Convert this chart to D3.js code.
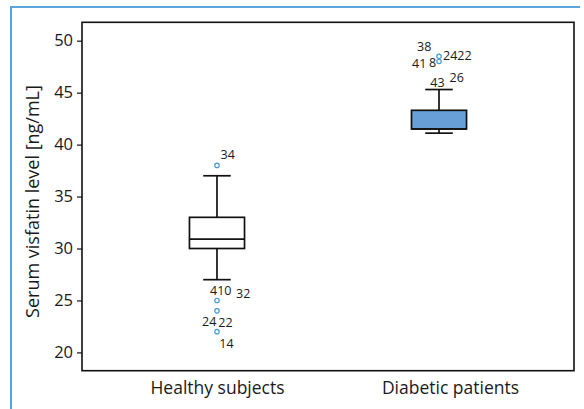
<!DOCTYPE html>
<html><head><meta charset="utf-8">
<script src="https://cdn.jsdelivr.net/npm/d3@7"></script>
<style>
body{margin:0;background:#fff;}
svg text{font-family:"Open Sans",sans-serif;fill:#1a1a1a;}
</style></head>
<body><svg id="c" width="584" height="409"></svg>
<script>
// ---- data ----
const categories = ["Healthy subjects", "Diabetic patients"];
const whiskerLow  = [27.0, 41.1];
const q1          = [30.0, 41.5];
const median      = [30.9, 41.5];
const q3          = [33.0, 43.3];
const whiskerHigh = [37.0, 45.3];
const outlierGroup = [0, 0, 0, 0, 1, 1];
const outlierValue = [38.0, 25.0, 24.0, 22.0, 48.5, 48.0];
const labelPoint = [0, 1, 1, 2, 2, 3, 4, 5, 5, 5, 5, 5];
const labelText  = ["34", "410", "32", "24", "22", "14", "38", "41", "8", "2422", "43", "26"];
const yTicks = [20, 25, 30, 35, 40, 45, 50];
const yTitle = "Serum visfatin level [ng/mL]";

// ---- label offsets (style) ----
const labelDx = [3.5, -7, 19, -15, 1.3, 2.3, -22, -27, -10, 4, -8.7, 10.6];
const labelDy = [-6.5, -5, -2.4, 15, 16, 16, -5.3, 6.3, 5.3, -1.3, 25.7, 20.7];
const catLabelDx = [0, 11];

const svg = d3.select("#c");
const L = 82, R = 574, T = 22.3, B = 370.7;

const x = d3.scalePoint().domain(categories).range([L, R]).padding(0.608);
const y = d3.scaleLinear().domain([18.24, 51.77]).range([B, T]);

// outer blue frame
svg.append("path").attr("d", `M11,409V7H580`).attr("fill","none")
  .attr("stroke","#5aa5da").attr("stroke-width",2);

// plot frame
svg.append("rect").attr("x",L).attr("y",T).attr("width",R-L).attr("height",B-T)
  .attr("fill","none").attr("stroke","#111").attr("stroke-width",1.6);

// y axis
const ya = svg.append("g").attr("transform",`translate(${L},0)`)
  .call(d3.axisLeft(y).tickValues(yTicks).tickSize(5).tickPadding(4));
ya.select(".domain").remove();
ya.selectAll("line").attr("stroke","#111").attr("stroke-width",1.2);
ya.selectAll("text").style("font-size","16.5px").attr("fill","#1a1a1a");

// x axis labels
const xa = svg.append("g").attr("transform",`translate(0,${B})`)
  .call(d3.axisBottom(x).tickSize(0).tickPadding(11));
xa.select(".domain").remove();
xa.selectAll("text").style("font-size","17.5px").attr("fill","#1a1a1a")
  .attr("dx",(d,i)=>catLabelDx[i]);

// y title
svg.append("text").attr("transform",`translate(38.5,${(T+B)/2 + 5}) rotate(-90)`)
  .attr("text-anchor","middle").style("font-size","18px").text(yTitle);

// boxes
const bw = x.step()*0.248, cw = bw*0.5;
const fills = ["#ffffff", "#679fd6"];
categories.forEach((c,i)=>{
  const cx = x(c);
  const g = svg.append("g").attr("stroke","#111").attr("stroke-width",1.7);
  g.append("line").attr("x1",cx).attr("x2",cx).attr("y1",y(whiskerHigh[i])).attr("y2",y(q3[i]));
  g.append("line").attr("x1",cx).attr("x2",cx).attr("y1",y(q1[i])).attr("y2",y(whiskerLow[i]));
  g.append("line").attr("x1",cx-cw/2).attr("x2",cx+cw/2).attr("y1",y(whiskerHigh[i])).attr("y2",y(whiskerHigh[i]));
  g.append("line").attr("x1",cx-cw/2).attr("x2",cx+cw/2).attr("y1",y(whiskerLow[i])).attr("y2",y(whiskerLow[i]));
  g.append("rect").attr("x",cx-bw/2).attr("width",bw).attr("y",y(q3[i])).attr("height",y(q1[i])-y(q3[i]))
    .attr("fill",fills[i]);
  g.append("line").attr("x1",cx-bw/2).attr("x2",cx+bw/2).attr("y1",y(median[i])).attr("y2",y(median[i]));
});

// outliers
outlierValue.forEach((v,k)=>{
  svg.append("circle").attr("cx",x(categories[outlierGroup[k]])).attr("cy",y(v)).attr("r",2.2)
    .attr("fill","#fff").attr("stroke","#3f9ad8").attr("stroke-width",1.2);
});
labelText.forEach((t,k)=>{
  const p = labelPoint[k];
  svg.append("text").attr("x",x(categories[outlierGroup[p]])+labelDx[k])
    .attr("y",y(outlierValue[p])+labelDy[k]).style("font-size","12.5px").text(t);
});
</script></body></html>
